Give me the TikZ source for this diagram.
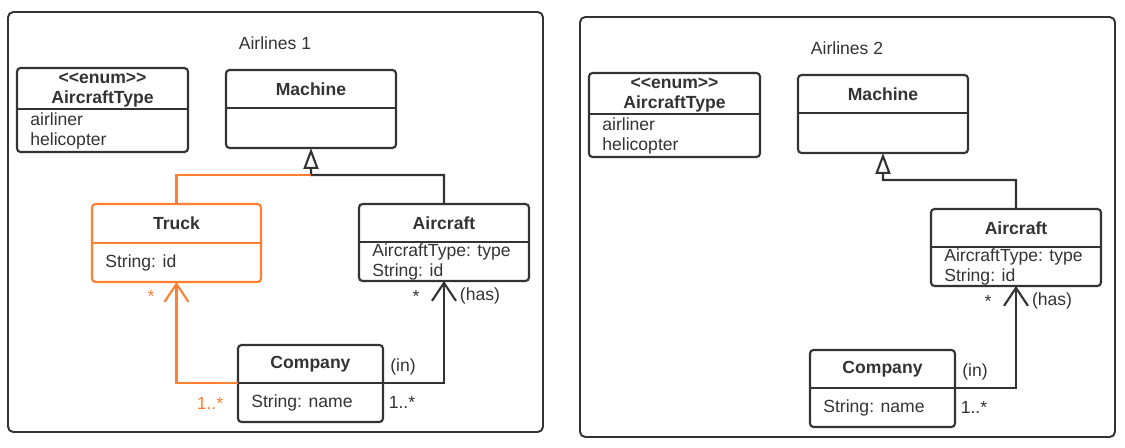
\documentclass[tikz,border=0pt]{standalone}
\usepackage{fontspec}
\setmainfont{Liberation Sans}
\usetikzlibrary{arrows.meta,positioning}

\definecolor{ink}{HTML}{333333}
\definecolor{accent}{HTML}{FF8033}

% class box: name, north west corner, width, head height, body height, title, attributes
\newcommand{\umlclass}[7]{%
  \node[head, minimum width=#3, minimum height=#4, anchor=north west] (#1) at #2 {#6};
  \node[body, minimum width=#3, minimum height=#5, below=0pt of #1] (#1-b) {};
  \node[attr, right=0pt of #1-b.west] (#1-t) {#7};
  \draw[frame] (#1.north west) rectangle (#1-b.south east);
  \draw[frame] (#1.south west) -- (#1.south east);
}

\tikzset{
  head/.style={inner sep=0pt, outer sep=0pt, font=\bfseries, align=center},
  body/.style={inner sep=0pt, outer sep=0pt},
  attr/.style={inner xsep=0.26cm, inner ysep=0pt, align=left},
  frame/.style={draw=ink, line width=1.2pt, rounded corners=2pt},
  panel/.style={draw=ink, line width=1.1pt, rounded corners=3pt},
  gen/.style={draw=ink, line width=1.2pt, -{Triangle[open, length=0.42cm, width=0.3cm]}},
  assoc/.style={draw=ink, line width=1.2pt, -{Straight Barb[length=0.36cm, width=0.48cm]}},
  lbl/.style={inner sep=0pt}
}

\begin{document}
\fontsize{10}{11.4}\selectfont
\begin{tikzpicture}[x=0.02cm, y=-0.02cm, every node/.append style={text=ink}]
    \useasboundingbox (0,0) rectangle (1125,447);

    % the two airlines share everything but the truck
    \foreach \p/\dx/\dy in {1/0/0, 2/572/5} {
    \begin{scope}[shift={(\dx,\dy)}]
        \draw[panel] (8,12) rectangle (543,432);
        \node[lbl] (title\p) at (275,43) {Airlines \p};

        \umlclass{enum\p}{(17,68)}{3.42cm}{0.82cm}{0.86cm}{\strut<\kern0pt<enum>\kern0pt>\\AircraftType}{airliner\\helicopter}
        \umlclass{machine\p}{(226,70)}{3.4cm}{0.76cm}{0.8cm}{Machine}{}
        \umlclass{aircraft\p}{(359,204)}{3.4cm}{0.76cm}{0.78cm}{Aircraft}{AircraftType: type\\String: id}
        \umlclass{company\p}{(238,345)}{2.9cm}{0.76cm}{0.78cm}{Company}{String: name}

        \coordinate (fork\p) at (311,175);
        \draw[gen] (aircraft\p.north) |- (fork\p) -- (machine\p-b.south);
        \draw[assoc] (company\p.south east) -| (aircraft\p-b.south);

        \node[lbl] (many\p) at (416,296) {*};
        \node[lbl] (has\p) at (480,296) {(has)};
        \node[lbl] (in\p) at (403,367) {(in)};
        \node[lbl] (some\p) at (402,402) {1..*};
    \end{scope}
    }

    % truck only in the first one
    \begin{scope}[frame/.append style={draw=accent}]
        \umlclass{truck}{(92,204)}{3.38cm}{0.78cm}{0.78cm}{Truck}{String: id}
    \end{scope}
    \draw[accent, line width=1.2pt] (truck.north) |- (fork1);
    \draw[assoc, draw=accent] (company1.south west) -| (truck-b.south);
    \node[lbl, text=accent] (truckmany) at (151,296) {*};
    \node[lbl, text=accent] (trucksome) at (210,403) {1..*};
\end{tikzpicture}
\end{document}
